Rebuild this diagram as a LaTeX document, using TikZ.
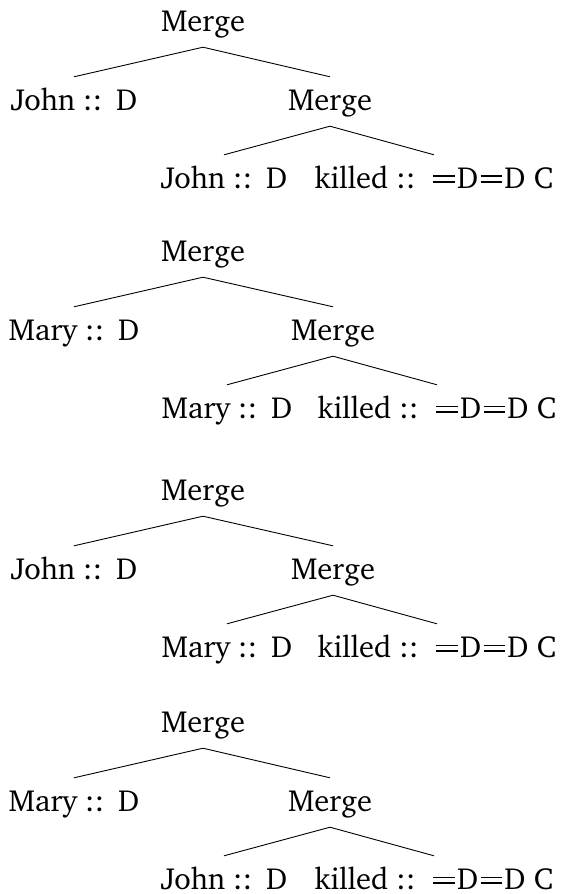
\documentclass[tikz,border=0pt]{standalone}
\usepackage[T1]{fontenc}
\usepackage{charter}
\begin{document}
\begin{tikzpicture}[x=1pt,y=-1pt,
  lbl/.style={anchor=base,inner sep=0pt,text height=33pt,text depth=16pt,
    font=\fontsize{30.5}{36}\selectfont},
  edge/.style={line width=0.9pt}]
\useasboundingbox (0,0) rectangle (561,894);
\newcommand{\eqs}{\kern0.08em\rlap{\rule[0.36em]{0.7em}{0.05em}}\rule[0.17em]{0.7em}{0.05em}\kern0.08em}
\newcommand{\lx}[2]{#1\hspace{0.25em}::\hspace{0.45em}#2}
\newcommand{\killed}{killed\hspace{0.25em}::\hspace{0.5em}\eqs D\eqs D C}
\newcommand{\mtree}[5]{%
  % #1 prefix, #2 y offset, #3 top leaf, #4 bottom leaf, #5 shift of right subtree
  \node[lbl] (#1r) at (203,31+#2) {Merge};
  \node[lbl] (#1l) at (74,110+#2) {\lx{#3}{D}};
  \node[lbl] (#1m) at (330+#5,110+#2) {Merge};
  \node[lbl] (#1bl) at (224+#5,188+#2) {\lx{#4}{D}};
  \node[lbl] (#1br) at (434+#5,188+#2) {\killed};
  \draw[edge] (#1r.south) -- (#1l.north);
  \draw[edge] (#1r.south) -- (#1m.north);
  \draw[edge] (#1m.south) -- (#1bl.north);
  \draw[edge] (#1m.south) -- (#1br.north);
}
\mtree{a}{0}{John}{John}{0}
\mtree{b}{230}{Mary}{Mary}{3}
\mtree{c}{469}{John}{Mary}{3}
\mtree{d}{701}{Mary}{John}{0}
\end{tikzpicture}
\end{document}
